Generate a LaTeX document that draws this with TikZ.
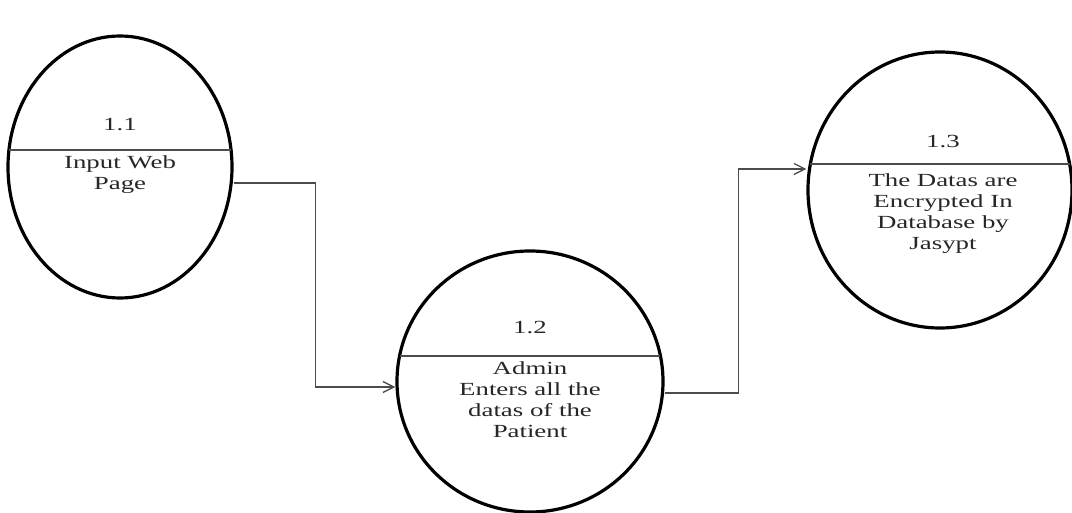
\documentclass[tikz,border=0pt]{standalone}
\usepackage{fontspec}
\setmainfont{Liberation Serif}[FakeStretch=1.45]
\usetikzlibrary{shapes.geometric,arrows.meta,calc}
\tikzset{
  proc/.style={ellipse, draw=black, line width=3.2pt, inner sep=0pt},
  lbl/.style={align=center, font=\fontsize{18.5}{21}\selectfont, text=black!85, inner sep=0pt},
  chord/.style={draw=black!70, line width=1.3pt},
  flow/.style={draw=black!70, line width=1.3pt, -{Straight Barb[length=11pt,width=11pt,line width=1.3pt]}}
}
\begin{document}
\begin{tikzpicture}[x=1pt,y=-1pt]
\useasboundingbox[fill=white] (0,0) rectangle (1072,513);
% processes
\node[proc, minimum width=224pt, minimum height=262pt] (e1) at (120,167) {};
\node[proc, minimum width=266pt, minimum height=261pt] (e2) at (530,381.5) {};
\node[proc, minimum width=264pt, minimum height=276pt] (e3) at (940,190) {};
% chords
\draw[chord] ($(e1.center)+(-111,-17)$) -- ($(e1.center)+(111,-17)$);
\draw[chord] ($(e2.center)+(-130.4,-25.5)$) -- ($(e2.center)+(130.4,-25.5)$);
\draw[chord] ($(e3.center)+(-129.6,-26)$) -- ($(e3.center)+(129.6,-26)$);
% labels
\node[lbl] (n1) at ($(e1.center)+(0,-42)$) {1.1};
\node[lbl] (t1) at ($(e1.center)+(0,8)$) {Input Web\\Page};
\node[lbl] (n2) at ($(e2.center)+(0,-53.5)$) {1.2};
\node[lbl] (t2) at ($(e2.center)+(0,18.5)$) {Admin\\Enters all the\\datas of the\\Patient};
\node[lbl] (n3) at ($(e3.center)+(3,-48)$) {1.3};
\node[lbl] (t3) at ($(e3.center)+(3,24)$) {The Datas are\\Encrypted In\\Database by\\Jasypt};
% connectors
\coordinate (a1s) at ([yshift=-16pt]e1.east);
\coordinate (a1e) at ([yshift=-5.5pt]e2.west);
\coordinate (a2s) at ([yshift=-11.5pt]e2.east);
\coordinate (a2e) at ([yshift=21pt]e3.west);
\draw[flow] (a1s) -- ++(82,0) |- (a1e);
\draw[flow] (a2s) -- ++(74,0) |- (a2e);
\end{tikzpicture}
\end{document}
